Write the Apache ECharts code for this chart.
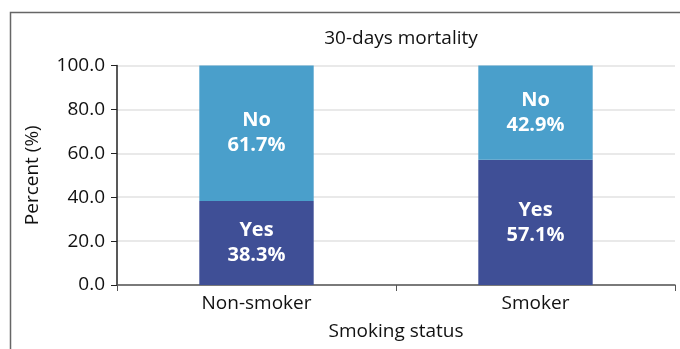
<!DOCTYPE html>
<html>
<head>
<meta charset="utf-8">
<script src="https://cdn.jsdelivr.net/npm/echarts@6/dist/echarts.min.js"></script>
<style>
  html, body { margin: 0; padding: 0; background: #fff; }
  #chart { width: 680px; height: 349px; }
</style>
</head>
<body>
<div id="chart"></div>
<script>
// data
const categories = ["Non-smoker", "Smoker"];
const yesValues = [38.3, 57.1];
const noValues = [61.7, 42.9];

const font = "'Open Sans', 'Noto Sans', sans-serif";

const chart = echarts.init(document.getElementById("chart"));

function segLabel(name) {
  return {
    show: true,
    position: "inside",
    color: "#fff",
    fontFamily: font,
    fontWeight: "bold",
    fontSize: 20,
    lineHeight: 25,
    formatter: (p) => name + "\n" + p.value.toFixed(1) + "%",
  };
}

chart.setOption({
  animation: false,
  title: {
    text: "30-days mortality",
    left: 396,
    top: 24,
    textAlign: "center",
    textStyle: { fontFamily: font, fontWeight: "normal", fontSize: 19, color: "#111" },
  },
  graphic: [
    {
      type: "rect",
      shape: { x: 10.5, y: 12.5, width: 700, height: 400 },
      style: { fill: "none", stroke: "#666", lineWidth: 1.5 },
      silent: true,
    },
  ],
  grid: { left: 117, right: 5, top: 65.5, bottom: 64, outerBoundsMode: "none", containLabel: false },
  xAxis: {
    type: "category",
    data: categories,
    name: "Smoking status",
    nameLocation: "middle",
    nameGap: 37,
    nameTextStyle: { fontFamily: font, fontSize: 19, color: "#111" },
    axisLine: { lineStyle: { color: "#555", width: 1.5 } },
    axisTick: { show: true, length: 6, lineStyle: { color: "#555" } },
    axisLabel: { fontFamily: font, fontSize: 19, color: "#111", margin: 9 },
  },
  yAxis: {
    type: "value",
    min: 0,
    max: 100,
    interval: 20,
    name: "Percent (%)",
    nameLocation: "middle",
    nameGap: 75,
    nameTextStyle: { fontFamily: font, fontSize: 19, color: "#111" },
    axisLine: { show: true, lineStyle: { color: "#222", width: 1.5 } },
    axisTick: { show: true, length: 6, lineStyle: { color: "#222" } },
    axisLabel: {
      fontFamily: font,
      fontSize: 19,
      color: "#111",
      margin: 12,
      formatter: (v) => v.toFixed(1),
    },
    splitLine: { lineStyle: { color: "#e2e2e2", width: 1.5 } },
  },
  series: [
    {
      name: "Yes",
      type: "bar",
      stack: "total",
      data: yesValues,
      barWidth: "41%",
      itemStyle: { color: "#3f4f96" },
      label: segLabel("Yes"),
    },
    {
      name: "No",
      type: "bar",
      stack: "total",
      data: noValues,
      barWidth: "41%",
      itemStyle: { color: "#4a9fcb" },
      label: segLabel("No"),
    },
  ],
});
</script>
</body>
</html>
